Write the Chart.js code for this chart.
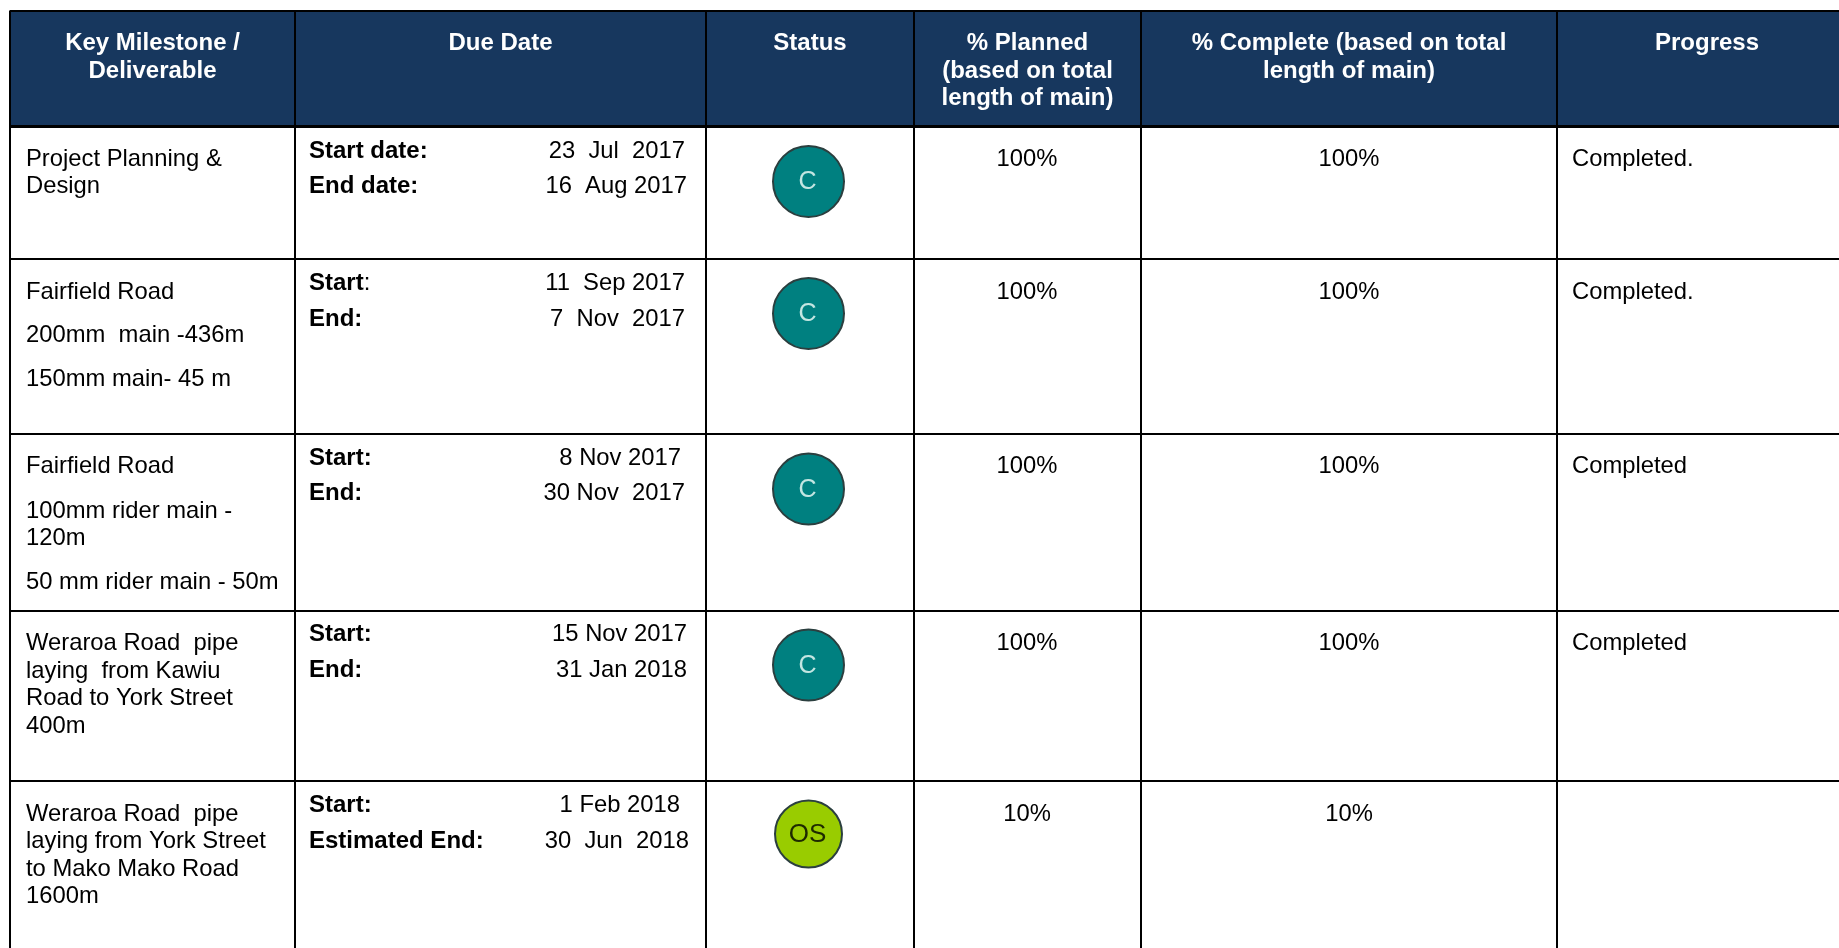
<!DOCTYPE html>
<html>
<head>
<meta charset="utf-8">
<title>Key Milestones</title>
<script src="https://cdn.jsdelivr.net/npm/chart.js@4"></script>
<style>
  html, body { margin: 0; padding: 0; background: #fff; overflow: hidden; }
  canvas { display: block; }
</style>
</head>
<body>
<canvas id="milestones" width="1839" height="948"></canvas>
<script>
// table content
const headers = [
    ["Key Milestone /", "Deliverable"],
    ["Due Date"],
    ["Status"],
    ["% Planned", "(based on total", "length of main)"],
    ["% Complete (based on total", "length of main)"],
    ["Progress"]
];
const milestones = [
    ["Project Planning &", "Design"],
    ["Fairfield Road", "200mm  main -436m", "150mm main- 45 m"],
    ["Fairfield Road", "100mm rider main -", "120m", "50 mm rider main - 50m"],
    ["Weraroa Road  pipe", "laying  from Kawiu", "Road to York Street", "400m"],
    ["Weraroa Road  pipe", "laying from York Street", "to Mako Mako Road", "1600m"]
];
const startLabels = ["Start date:", "Start", "Start:", "Start:", "Start:"];
const endLabels = ["End date:", "End:", "End:", "End:", "Estimated End:"];
const startDates = ["23  Jul  2017", "11  Sep 2017", "8 Nov 2017", "15 Nov 2017", "1 Feb 2018"];
const endDates = ["16  Aug 2017", "7  Nov  2017", "30 Nov  2017", "31 Jan 2018", "30  Jun  2018"];
const statusCodes = ["C", "C", "C", "C", "OS"];
const plannedPct = [100, 100, 100, 100, 10];
const completePct = [100, 100, 100, 100, 10];
const progressNotes = ["Completed.", "Completed.", "Completed", "Completed", ""];

// table geometry, the axes run in page pixels
const columnEdges = [10, 295, 706, 914, 1141, 1557];
const rowEdges = [10.5, 126.7, 259, 434, 611, 781];
const statusX = 808.5;
const statusY = [181.5, 313.5, 489, 665, 834];
const statusRadius = [35.5, 35.5, 35.5, 35.5, 33.5];
const statusColors = ["#008080", "#008080", "#008080", "#008080", "#99cc00"];
const statusTextColors = ["#c4e6e2", "#c4e6e2", "#c4e6e2", "#c4e6e2", "#1e2a00"];
const statusFontSize = [25, 25, 25, 25, 26];
const headerBaselines = [50, 77.5, 105];
const milestoneBaselines = [
    [165.7, 193],
    [298.5, 341.7, 385.7],
    [473.3, 517.7, 545, 589],
    [650, 677.7, 705, 732.7],
    [820.7, 848.3, 876, 903.3]
];
const startBaselines = [158, 290, 465, 641, 812.3];
const endBaselines = [192.7, 325.5, 500, 677.3, 848.3];
const startDateRight = [685, 685, 681, 687, 680];
const endDateRight = [687, 685, 685, 687, 689];

const FONT = '"Liberation Sans", Arial, sans-serif';

const tableText = {
    id: 'tableText',
    afterDatasetsDraw(chart) {
        const ctx = chart.ctx;
        const x = chart.scales.x;
        const y = chart.scales.y;
        const put = (text, px, py, align, font, color) => {
            ctx.textAlign = align;
            ctx.font = font === 'bold' ? 'bold 24px ' + FONT : 'normal 23.8px ' + FONT;
            ctx.fillStyle = color;
            ctx.fillText(text, x.getPixelForValue(px), y.getPixelForValue(py));
        };
        ctx.save();
        ctx.textBaseline = 'alphabetic';

        headers.forEach((lines, c) => {
            const right = c < columnEdges.length - 1 ? columnEdges[c + 1] : 1857;
            const mid = (columnEdges[c] + right) / 2;
            lines.forEach((line, i) => put(line, mid, headerBaselines[i], 'center', 'bold', '#ffffff'));
        });

        milestones.forEach((lines, r) => {
            lines.forEach((line, i) => put(line, 26, milestoneBaselines[r][i], 'left', 'normal', '#000000'));

            put(startLabels[r], 309, startBaselines[r], 'left', 'bold', '#000000');
            if (!startLabels[r].endsWith(':')) {
                // the colon after this one label is not bold in the source
                ctx.font = 'bold 24px ' + FONT;
                put(':', 309 + ctx.measureText(startLabels[r]).width, startBaselines[r], 'left', 'normal', '#000000');
            }
            put(endLabels[r], 309, endBaselines[r], 'left', 'bold', '#000000');
            put(startDates[r], startDateRight[r], startBaselines[r], 'right', 'normal', '#000000');
            put(endDates[r], endDateRight[r], endBaselines[r], 'right', 'normal', '#000000');

            const base = milestoneBaselines[r][0];
            put(plannedPct[r] + '%', 1027, base, 'center', 'normal', '#000000');
            put(completePct[r] + '%', 1349, base, 'center', 'normal', '#000000');
            put(progressNotes[r], 1572, base, 'left', 'normal', '#000000');
        });

        // letters inside the status circles, they sit a little under the middle
        const pts = chart.getDatasetMeta(1).data;
        ctx.textAlign = 'center';
        ctx.textBaseline = 'middle';
        pts.forEach((pt, i) => {
            ctx.font = 'normal ' + statusFontSize[i] + 'px ' + FONT;
            ctx.fillStyle = statusTextColors[i];
            ctx.fillText(statusCodes[i], pt.x - 1, pt.y + 1);
        });
        ctx.restore();
    }
};

const new_chart = new Chart('milestones', {
    type: 'scatter',
    data: {
        datasets: [
            {
                // header band
                type: 'line',
                data: [{ x: columnEdges[0], y: rowEdges[0] }, { x: 1839, y: rowEdges[0] }],
                fill: { value: rowEdges[1] },
                backgroundColor: '#17375e',
                borderWidth: 0,
                pointRadius: 0
            },
            {
                data: statusCodes.map((code, i) => ({ x: statusX, y: statusY[i] })),
                pointRadius: statusRadius,
                pointBackgroundColor: statusColors,
                pointBorderColor: '#2b3f3f',
                pointBorderWidth: 2
            }
        ]
    },
    plugins: [tableText],
    options: {
        responsive: false,
        animation: false,
        layout: { autoPadding: false, padding: { left: 10, top: 10.5, right: 0, bottom: 0 } },
        scales: {
            x: {
                type: 'linear',
                min: 10,
                max: 1839,
                afterBuildTicks: (scale) => { scale.ticks = columnEdges.map(v => ({ value: v })); },
                ticks: { display: false },
                border: { display: false },
                grid: { color: '#000000', lineWidth: 2, drawTicks: false, z: 1 }
            },
            y: {
                type: 'linear',
                reverse: true,
                min: 10.5,
                max: 948,
                afterBuildTicks: (scale) => { scale.ticks = rowEdges.map(v => ({ value: v })); },
                ticks: { display: false },
                border: { display: false },
                grid: {
                    color: '#000000',
                    lineWidth: (c) => (c.index === 1 ? 3 : 2),
                    drawTicks: false,
                    z: 1
                }
            }
        },
        plugins: {
            legend: { display: false },
            tooltip: { enabled: false }
        }
    }
});
</script>
</body>
</html>
